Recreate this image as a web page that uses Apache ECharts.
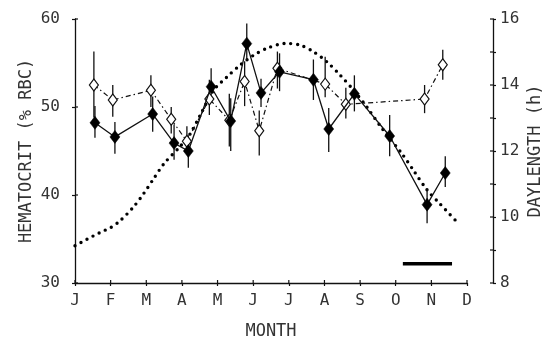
<!DOCTYPE html>
<html>
<head>
<meta charset="utf-8">
<script src="https://cdn.jsdelivr.net/npm/echarts@6/dist/echarts.min.js"></script>
<style>html,body{margin:0;padding:0;background:#fff}#c{width:545px;height:337px}</style>
</head>
<body>
<div id="c"></div>
<script>
// Month tick labels (x = months since Jan 1)
const monthLabels = ['J','F','M','A','M','J','J','A','S','O','N','D'];
const monthTicks = [0,1,2,3,4,5,6,7,8,9,10,11];
const leftTicks = [30, 40, 50, 60];
const rightTicks = [8, 9, 10, 11, 12, 13, 14, 15, 16];

// Filled diamonds (solid line): month position, hematocrit, error low, error high
const filledX  = [0.56, 1.12, 2.18, 2.78, 3.18, 3.82, 4.37, 4.82, 5.22, 5.74, 6.69, 7.12, 7.84, 8.83, 9.88, 10.39];
const filledY  = [48.2, 46.6, 49.2, 45.9, 45.0, 52.3, 48.4, 57.2, 51.6, 54.0, 53.1, 47.5, 51.5, 46.7, 38.9, 42.5];
const filledLo = [46.5, 44.7, 47.2, 44.0, 43.1, 50.5, 45.0, 55.3, 50.0, 51.8, 50.8, 44.9, 49.5, 44.4, 36.8, 40.9];
const filledHi = [50.1, 48.3, 51.2, 48.0, 46.8, 54.4, 51.0, 59.5, 53.2, 56.1, 55.4, 49.9, 53.6, 49.1, 40.7, 44.4];

// Open diamonds (dash-dot line)
const openX  = [0.53, 1.06, 2.13, 2.70, 3.14, 3.77, 4.33, 4.76, 5.17, 5.68, 7.02, 7.60, 9.81, 10.32];
const openY  = [52.5, 50.8, 51.9, 48.6, 46.1, 50.9, 48.5, 52.9, 47.3, 54.4, 52.6, 50.3, 50.9, 54.8];
const openLo = [48.8, 48.9, 50.0, 47.0, 44.6, 49.1, 45.5, 50.1, 44.5, 52.1, 51.1, 48.7, 49.3, 53.1];
const openHi = [56.3, 52.5, 53.6, 50.0, 47.8, 53.1, 51.5, 55.2, 49.6, 56.3, 55.7, 52.2, 52.5, 56.5];

// Daylength curve (hours, right axis)
const dayX = [0, 0.33, 0.70, 1.0, 1.26, 1.63, 1.92, 2.2, 2.5, 2.95, 3.23, 3.51, 3.89, 4.26, 4.63, 5.01, 5.38, 5.90, 6.32, 6.69, 7.07, 7.44, 7.82, 8.19, 8.66, 9.18, 9.50, 9.88, 10.25, 10.77];
const dayH = [9.13, 9.32, 9.53, 9.68, 9.88, 10.29, 10.70, 11.15, 11.62, 12.14, 12.52, 13.08, 13.84, 14.24, 14.60, 14.90, 15.11, 15.26, 15.21, 15.01, 14.70, 14.30, 13.84, 13.33, 12.62, 11.91, 11.41, 10.82, 10.39, 9.79];

// Horizontal bar near Oct-Nov
const barX = [9.2, 10.58];
const barY = [32.2, 32.2];

const zip = (a, b) => a.map((v, i) => [v, b[i]]);
const zip3 = (a, b, c) => a.map((v, i) => [v, b[i], c[i]]);

const FONT = 'DejaVu Sans Mono';
const INK = '#111';
const TXT = '#333';
const lab = { color: TXT, fontFamily: FONT, fontSize: 16 };
const ttl = { color: TXT, fontFamily: FONT, fontSize: 17 };
const RIGHT_OFFSET = 26;
const TICK = 3;

function errRender(params, api) {
  const p1 = api.coord([api.value(0), api.value(1)]);
  const p2 = api.coord([api.value(0), api.value(2)]);
  return { type: 'line', shape: { x1: p1[0], y1: p1[1], x2: p2[0], y2: p2[1] },
           style: { stroke: INK, lineWidth: 1.3 } };
}

// inner halves of the crossing ticks ("+" marks) on left and bottom axes
function innerTicksLB(params, api) {
  const children = [];
  leftTicks.forEach(v => {
    const p = api.coord([0, v]);
    children.push({ type: 'line', shape: { x1: p[0], y1: p[1], x2: p[0] + TICK, y2: p[1] },
                    style: { stroke: INK, lineWidth: 1.2 } });
  });
  monthTicks.forEach(m => {
    const p = api.coord([m, 30]);
    children.push({ type: 'line', shape: { x1: p[0], y1: p[1], x2: p[0], y2: p[1] - TICK },
                    style: { stroke: INK, lineWidth: 1.2 } });
  });
  return { type: 'group', children };
}
function innerTicksR(params, api) {
  const children = [];
  rightTicks.forEach(v => {
    const p = api.coord([11, v]);
    const x = p[0] + RIGHT_OFFSET;
    children.push({ type: 'line', shape: { x1: x, y1: p[1], x2: x - TICK, y2: p[1] },
                    style: { stroke: INK, lineWidth: 1.2 } });
  });
  return { type: 'group', children };
}

const chart = echarts.init(document.getElementById('c'), null, { renderer: 'canvas' });
chart.setOption({
  animation: false,
  backgroundColor: '#fff',
  grid: { left: 75, right: 78, top: 19, bottom: 54, containLabel: false, outerBoundsMode: 'none' },
  xAxis: [
    { type: 'value', min: 0, max: 11, interval: 1, position: 'bottom',
      axisLine: { onZero: false, lineStyle: { color: INK, width: 1.3 } },
      axisTick: { length: TICK, lineStyle: { color: INK, width: 1.2 } },
      axisLabel: Object.assign({ margin: 10, formatter: v => monthLabels[v] || '' }, lab),
      splitLine: { show: false },
      name: 'MONTH', nameLocation: 'middle', nameGap: 40, nameMoveOverlap: false, nameTextStyle: ttl }
  ],
  yAxis: [
    { type: 'value', min: 30, max: 60, interval: 10, position: 'left',
      axisLine: { show: true, onZero: false, lineStyle: { color: INK, width: 1.3 } },
      axisTick: { show: true, length: TICK, lineStyle: { color: INK, width: 1.2 } },
      axisLabel: Object.assign({ margin: 15 }, lab),
      splitLine: { show: false },
      name: 'HEMATOCRIT (% RBC)', nameLocation: 'middle', nameGap: 40, nameMoveOverlap: false, nameTextStyle: ttl },
    { type: 'value', min: 8, max: 16, interval: 1, position: 'right', offset: RIGHT_OFFSET,
      axisLine: { show: true, onZero: false, lineStyle: { color: INK, width: 1.3 } },
      axisTick: { show: true, length: TICK, lineStyle: { color: INK, width: 1.2 } },
      axisLabel: Object.assign({ margin: 7, formatter: v => (v % 2 === 0 ? String(v) : '') }, lab),
      splitLine: { show: false },
      name: 'DAYLENGTH (h)', nameLocation: 'middle', nameGap: 34, nameMoveOverlap: false, nameTextStyle: ttl }
  ],
  series: [
    { type: 'custom', xAxisIndex: 0, yAxisIndex: 0, data: [[0, 30]], renderItem: innerTicksLB,
      clip: false, silent: true, z: 10 },
    { type: 'custom', xAxisIndex: 0, yAxisIndex: 1, data: [[0, 8]], renderItem: innerTicksR,
      clip: false, silent: true, z: 10 },
    { type: 'line', xAxisIndex: 0, yAxisIndex: 1, data: zip(dayX, dayH), smooth: 0.3,
      showSymbol: false, symbol: 'none',
      lineStyle: { color: '#000', width: 3.4, type: [0, 6.8], cap: 'round' }, z: 1 },
    { type: 'line', xAxisIndex: 0, yAxisIndex: 0, data: zip(barX, barY), symbol: 'none',
      lineStyle: { color: '#000', width: 3.5 }, z: 2 },
    { type: 'custom', xAxisIndex: 0, yAxisIndex: 0, data: zip3(openX, openLo, openHi),
      renderItem: errRender, encode: { x: 0, y: [1, 2] }, z: 3 },
    { type: 'custom', xAxisIndex: 0, yAxisIndex: 0, data: zip3(filledX, filledLo, filledHi),
      renderItem: errRender, encode: { x: 0, y: [1, 2] }, z: 3 },
    { type: 'line', xAxisIndex: 0, yAxisIndex: 0, data: zip(openX, openY),
      symbol: 'diamond', symbolSize: [9, 12], showAllSymbol: true,
      itemStyle: { color: '#fff', borderColor: INK, borderWidth: 1.2 },
      lineStyle: { color: INK, width: 1.2, type: [5, 3, 1.5, 3] }, z: 4 },
    { type: 'line', xAxisIndex: 0, yAxisIndex: 0, data: zip(filledX, filledY),
      symbol: 'diamond', symbolSize: [10, 13], showAllSymbol: true,
      itemStyle: { color: '#000', borderColor: '#000', borderWidth: 0.5 },
      lineStyle: { color: INK, width: 1.3 }, z: 5 }
  ]
});
</script>
</body>
</html>
